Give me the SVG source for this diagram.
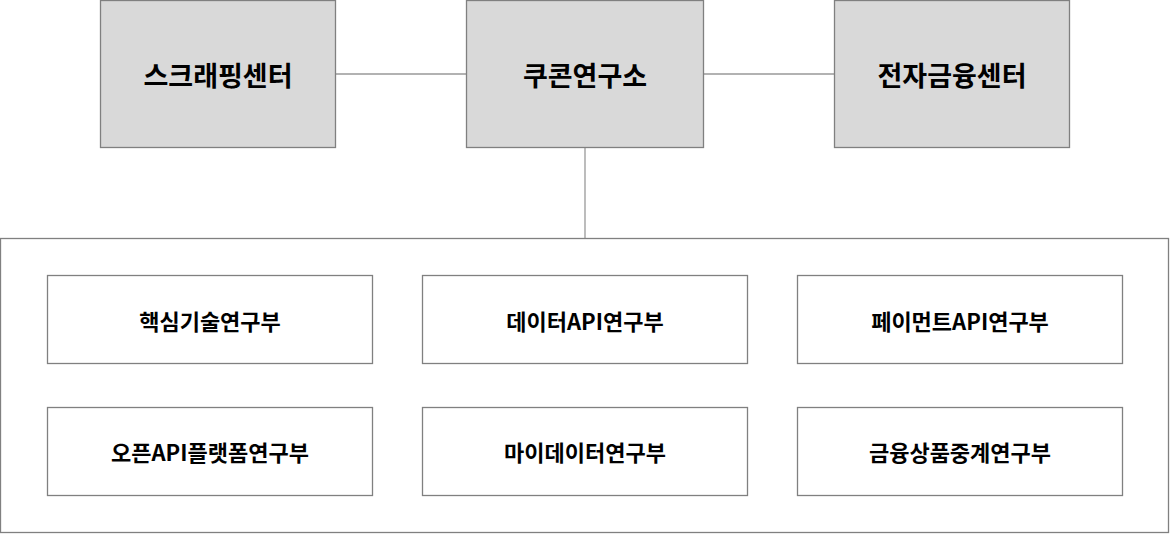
<svg xmlns="http://www.w3.org/2000/svg" width="1170" height="534" viewBox="0 0 1170 534">
<style>
.top{fill:#d9d9d9;stroke:#808080;stroke-width:1.3}
.box{fill:#fff;stroke:#808080;stroke-width:1.3}
.ln{stroke:#999;stroke-width:1.3;fill:none}
.t1{font-family:"Noto Sans CJK KR",sans-serif;font-weight:bold;font-size:27px;fill:#000;text-anchor:middle;dominant-baseline:central}
.t2{font-family:"Noto Sans CJK KR",sans-serif;font-weight:bold;font-size:22px;fill:#000;text-anchor:middle;dominant-baseline:central}
</style>
<rect width="1170" height="534" fill="#fff"/>
<g id="connectors">
<line class="ln" x1="336" y1="74" x2="466" y2="74"/>
<line class="ln" x1="704" y1="74" x2="834" y2="74"/>
<line class="ln" x1="585" y1="148" x2="585" y2="238"/>
</g>
<g id="container"><rect class="box" x="0.5" y="238.5" width="1168" height="294"/></g>
<g id="n1"><rect class="top" x="100.5" y="0.5" width="235" height="147"/><text class="t1" x="218" y="74">스크래핑센터</text></g>
<g id="n2"><rect class="top" x="466.5" y="0.5" width="237" height="147"/><text class="t1" x="585" y="74">쿠콘연구소</text></g>
<g id="n3"><rect class="top" x="834.5" y="0.5" width="235" height="147"/><text class="t1" x="952" y="74">전자금융센터</text></g>
<g id="n4"><rect class="box" x="47.5" y="275.5" width="325" height="88"/><text class="t2" x="210" y="320">핵심기술연구부</text></g>
<g id="n5"><rect class="box" x="422.5" y="275.5" width="325" height="88"/><text class="t2" x="585" y="320">데이터API연구부</text></g>
<g id="n6"><rect class="box" x="797.5" y="275.5" width="325" height="88"/><text class="t2" x="960" y="320">페이먼트API연구부</text></g>
<g id="n7"><rect class="box" x="47.5" y="407.5" width="325" height="88"/><text class="t2" x="210" y="451">오픈API플랫폼연구부</text></g>
<g id="n8"><rect class="box" x="422.5" y="407.5" width="325" height="88"/><text class="t2" x="585" y="451">마이데이터연구부</text></g>
<g id="n9"><rect class="box" x="797.5" y="407.5" width="325" height="88"/><text class="t2" x="960" y="451">금융상품중계연구부</text></g>
</svg>
